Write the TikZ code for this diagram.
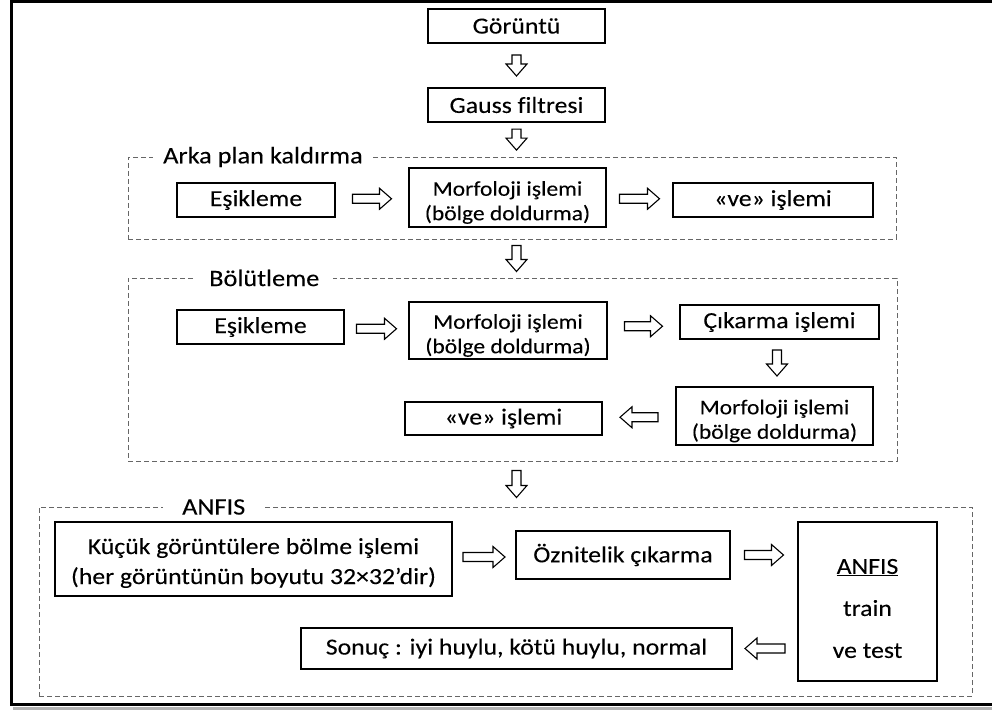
\documentclass[tikz,border=0pt]{standalone}
\usepackage{fontspec}
\setmainfont{Carlito}[FakeStretch=1.12, FakeBold=0.12, Ligatures=NoCommon]
\usetikzlibrary{calc}
\begin{document}
\begin{tikzpicture}[x=1pt,y=-1pt,
  box/.style={draw=black, line width=1.4pt, inner sep=0pt, minimum height=34pt,
    align=center, font=\fontsize{23}{27}\selectfont},
  plain/.style={align=center, inner sep=0pt},
  twoline/.style={plain, font=\fontsize{21}{24.5}\selectfont},
  grp/.style={draw=black!60, dash pattern=on 5pt off 3pt, line width=0.9pt, inner sep=0pt},
  grplabel/.style={fill=white, inner ysep=1pt, font=\fontsize{23.5}{27}\selectfont},
  arrowline/.style={draw=black, fill=white, line width=1.1pt, line join=miter},
  pics/blk/.style={code={
    \path[arrowline] (-#1/2,4.5) -- ({#1/2-12},4.5) -- ({#1/2-12},10.5) -- (#1/2,0)
      -- ({#1/2-12},-10.5) -- ({#1/2-12},-4.5) -- (-#1/2,-4.5) -- cycle;}},
]
\useasboundingbox (0,0) rectangle (992,711);

% outer frame with its shadow (right side runs off the page)
\draw[line width=3pt, black!30] (13,708) -- (1000,708);
\draw[line width=3pt] (1000,2) -- (11.5,2) -- (11.5,704) -- (1000,704);

% dashed groups
\node[grp, minimum width=768pt, minimum height=82pt] (g1) at (512,198) {};
\node[grp, minimum width=769pt, minimum height=183pt] (g2) at (512.5,369.5) {};
\node[grp, minimum width=933pt, minimum height=189pt] (g3) at (505.5,601.5) {};
\node[grplabel, anchor=west, inner xsep=10pt] (l1) at (153,157) {Arka plan kaldırma};
\node[grplabel, anchor=west, inner xsep=14pt] (l2) at (195,278) {Bölütleme};
\node[grplabel, anchor=west, inner xsep=19pt] (l3) at (163,507) {ANFIS};

% top chain
\node[box, minimum width=177pt] (img) at (516.5,26) {Görüntü};
\node[box, minimum width=177pt] (gauss) at (516.5,105) {Gauss filtresi};

% background removal
\node[box, minimum width=158pt] (e1) at (256,200) {Eşikleme};
\node[box, minimum width=197pt, minimum height=59pt] (m1) at (507.5,197.5) {};
\node[twoline] (m1t) at ([yshift=-5pt]m1.center) {Morfoloji işlemi\\(bölge doldurma)};
\node[box, minimum width=200pt] (ve1) at (773,200) {«ve» işlemi};

% segmentation
\node[box, minimum width=167pt] (e2) at (260.5,327) {Eşikleme};
\node[box, minimum width=198pt, minimum height=57pt] (m2) at (508,330.5) {};
\node[twoline] (m2t) at ([yshift=-5pt]m2.center) {Morfoloji işlemi\\(bölge doldurma)};
\node[box, minimum width=199pt] (cik) at (779.5,322) {Çıkarma işlemi};
\node[box, minimum width=197pt, minimum height=58pt] (m3) at (774.5,416) {};
\node[twoline] (m3t) at ([yshift=-5pt]m3.center) {Morfoloji işlemi\\(bölge doldurma)};
\node[box, minimum width=197pt, minimum height=33pt] (ve2) at (503.5,418.5) {«ve» işlemi};

% ANFIS stage
\node[box, minimum width=397pt, minimum height=74pt] (kucuk) at (253.5,559) {};
\node[plain, font=\fontsize{23}{30}\selectfont] (kucukt) at ([yshift=-4pt]kucuk.center)
  {Küçük görüntülere bölme işlemi\\(her görüntünün boyutu 32×32’dir)};
\node[box, minimum width=214pt, minimum height=48pt] (ozn) at (623,555) {Öznitelik çıkarma};
\node[box, minimum width=139pt, minimum height=159pt] (anfis) at (867.5,601.5) {};
\node[plain, font=\fontsize{23}{42}\selectfont] (anfistxt)
  at ([yshift=-7pt]anfis.center) {\underline{ANFIS}\\train\\ve test};
\node[box, minimum width=431pt, minimum height=41pt] (sonuc) at (516.5,648.5)
  {Sonuç : iyi huylu, kötü huylu, normal};

% block arrows
\pic[rotate=-90] at ($(img.south)!0.5!(gauss.north)$) {blk=21};
\pic[rotate=-90] at ($(gauss.south)!0.5!(gauss.south |- g1.north)$) {blk=21};
\pic[rotate=-90] at ($(gauss.south |- g1.south)!0.5!(gauss.south |- g2.north)$) {blk=26};
\pic[rotate=-90] at ($(gauss.south |- g2.south)!0.5!(gauss.south |- g3.north)$) {blk=27};

\pic at ($(e1.east)!0.5!(m1.west)$) {blk=39};
\pic at ($(m1.east)!0.5!(ve1.west)$) {blk=40};
\pic at ($(e2.east)!0.5!(m2.west)$) {blk=40};
\pic at ($(m2.east)!0.5!(cik.west)$) {blk=38};
\pic[rotate=-90] at ($(cik.south)!0.5!(m3.north)$) {blk=26};
\pic[rotate=180] at ($(m3.west)!0.5!(ve2.east)$) {blk=38};
\pic at ($(kucuk.east)!0.5!(ozn.west)$) {blk=42};
\pic at ($(ozn.east)!0.5!(anfis.west |- ozn.east)$) {blk=39};
\pic[rotate=180] at ($(anfis.west |- sonuc.east)!0.5!(sonuc.east)$) {blk=40};
\end{tikzpicture}
\end{document}
